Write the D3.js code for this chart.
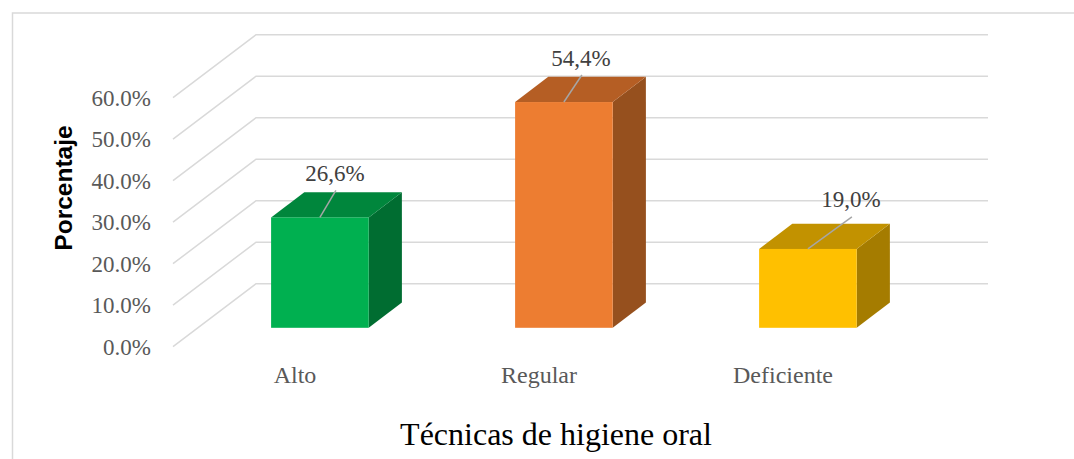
<!DOCTYPE html>
<html>
<head>
<meta charset="utf-8">
<script src="https://cdn.jsdelivr.net/npm/d3@7.9.0/dist/d3.min.js"></script>
<style>
html, body { margin: 0; padding: 0; background: #fff; overflow: hidden; }
svg { display: block; }
</style>
</head>
<body>
<div id="chart"></div>
<script>
const categories = ['Alto', 'Regular', 'Deficiente'];
const values = [26.6, 54.4, 19.0];
const valueLabels = ['26,6%', '54,4%', '19,0%'];
const yTicks = [0, 10, 20, 30, 40, 50, 60];
const frontColors = ['#00b050', '#ed7d31', '#ffc000'];
const topColors = ['#00863c', '#b55e24', '#c29200'];
const sideColors = ['#006d31', '#96501e', '#a57c00'];
// where each label's leader ends, as offset from the bar's top centre
const leaderEnds = [[16, -27], [18, -27], [44, -32]];
// label centre, as offset from the leader's end
const labelNudges = [[-1, -9], [-1, -9], [-1, -10]];

const width = 1074;
const height = 459;

const svg = d3.select('#chart').append('svg')
  .attr('width', width)
  .attr('height', height);

// frame runs off the right and bottom of the picture
svg.append('rect')
  .attr('x', 12.5)
  .attr('y', 13)
  .attr('width', 1100)
  .attr('height', 500)
  .attr('fill', '#fff')
  .attr('stroke', '#d9d9d9')
  .attr('stroke-width', 1.5);

// floor depth: front plane to back wall
const depth = { x: 83, y: -63 };
const yScale = d3.scaleLinear().domain([0, 60]).range([346.7, 97.7]);
const xFront = d3.scaleBand().domain(categories).range([173, 905]);
const barDepth = [0.3, 0.7];
const xBar = d3.scaleBand().domain(categories)
  .range([173 + depth.x * barDepth[0], 905 + depth.x * barDepth[0]])
  .paddingInner(0.6)
  .paddingOuter(0.3);

// gridlines: slanted on the side wall, then flat along the back
svg.append('g')
  .selectAll('polyline')
  .data(yTicks)
  .join('polyline')
  .attr('points', (d) => {
    const y = yScale(d);
    return [[173, y], [173 + depth.x, y + depth.y], [988, y + depth.y]].join(' ');
  })
  .attr('fill', 'none')
  .attr('stroke', '#d9d9d9')
  .attr('stroke-width', 1.5);

// y axis
const yAxis = svg.append('g')
  .attr('transform', 'translate(151,0)')
  .call(d3.axisLeft(yScale).tickValues(yTicks).tickSize(0).tickPadding(0)
    .tickFormat((d) => d.toFixed(1) + '%'));
yAxis.select('.domain').remove();
yAxis.selectAll('text')
  .attr('font-family', '"Liberation Serif"')
  .attr('font-size', 23)
  .attr('fill', '#595959');

// x axis
const xAxis = svg.append('g')
  .attr('transform', 'translate(0,366)')
  .call(d3.axisBottom(xFront).tickSize(0).tickPadding(0));
xAxis.select('.domain').remove();
xAxis.selectAll('text')
  .attr('font-family', '"Liberation Serif"')
  .attr('font-size', 24)
  .attr('fill', '#595959');

// bars
const baseY = yScale(0) + depth.y * barDepth[0];
const dx = depth.x * (barDepth[1] - barDepth[0]);
const dy = depth.y * (barDepth[1] - barDepth[0]);
const barHeight = (v) => yScale(0) - yScale(v);
const rows = categories.map((c, i) => ({ c, v: values[i], i }));
const bars = svg.append('g').selectAll('g').data(rows).join('g');

bars.append('path')
  .attr('fill', (d) => sideColors[d.i])
  .attr('d', (d) => {
    const x = xBar(d.c) + xBar.bandwidth();
    const top = baseY - barHeight(d.v);
    return `M${x},${baseY}L${x + dx},${baseY + dy}L${x + dx},${top + dy}L${x},${top}Z`;
  });
bars.append('path')
  .attr('fill', (d) => topColors[d.i])
  .attr('d', (d) => {
    const x = xBar(d.c);
    const w = xBar.bandwidth();
    const top = baseY - barHeight(d.v);
    return `M${x},${top}L${x + dx},${top + dy}L${x + w + dx},${top + dy}L${x + w},${top}Z`;
  });
bars.append('rect')
  .attr('fill', (d) => frontColors[d.i])
  .attr('x', (d) => xBar(d.c))
  .attr('y', (d) => baseY - barHeight(d.v))
  .attr('width', xBar.bandwidth())
  .attr('height', (d) => barHeight(d.v));

// leaders and data labels
bars.append('line')
  .attr('x1', (d) => xBar(d.c) + xBar.bandwidth() / 2)
  .attr('y1', (d) => baseY - barHeight(d.v))
  .attr('x2', (d) => xBar(d.c) + xBar.bandwidth() / 2 + leaderEnds[d.i][0])
  .attr('y2', (d) => baseY - barHeight(d.v) + leaderEnds[d.i][1])
  .attr('stroke', '#a6a6a6')
  .attr('stroke-width', 1.5);
bars.append('text')
  .attr('x', (d) => xBar(d.c) + xBar.bandwidth() / 2 + leaderEnds[d.i][0] + labelNudges[d.i][0])
  .attr('y', (d) => baseY - barHeight(d.v) + leaderEnds[d.i][1] + labelNudges[d.i][1])
  .attr('text-anchor', 'middle')
  .attr('font-family', '"Liberation Serif"')
  .attr('font-size', 23)
  .attr('fill', '#404040')
  .text((d) => valueLabels[d.i]);

// axis titles
svg.append('text')
  .attr('transform', 'translate(72,188) rotate(-90)')
  .attr('text-anchor', 'middle')
  .attr('font-family', '"Liberation Sans"')
  .attr('font-weight', 'bold')
  .attr('font-size', 24.5)
  .attr('fill', '#000')
  .text('Porcentaje');
svg.append('text')
  .attr('x', 556)
  .attr('y', 445)
  .attr('text-anchor', 'middle')
  .attr('font-family', '"Liberation Serif"')
  .attr('font-size', 32)
  .attr('fill', '#000')
  .text('Técnicas de higiene oral');
</script>
</body>
</html>
